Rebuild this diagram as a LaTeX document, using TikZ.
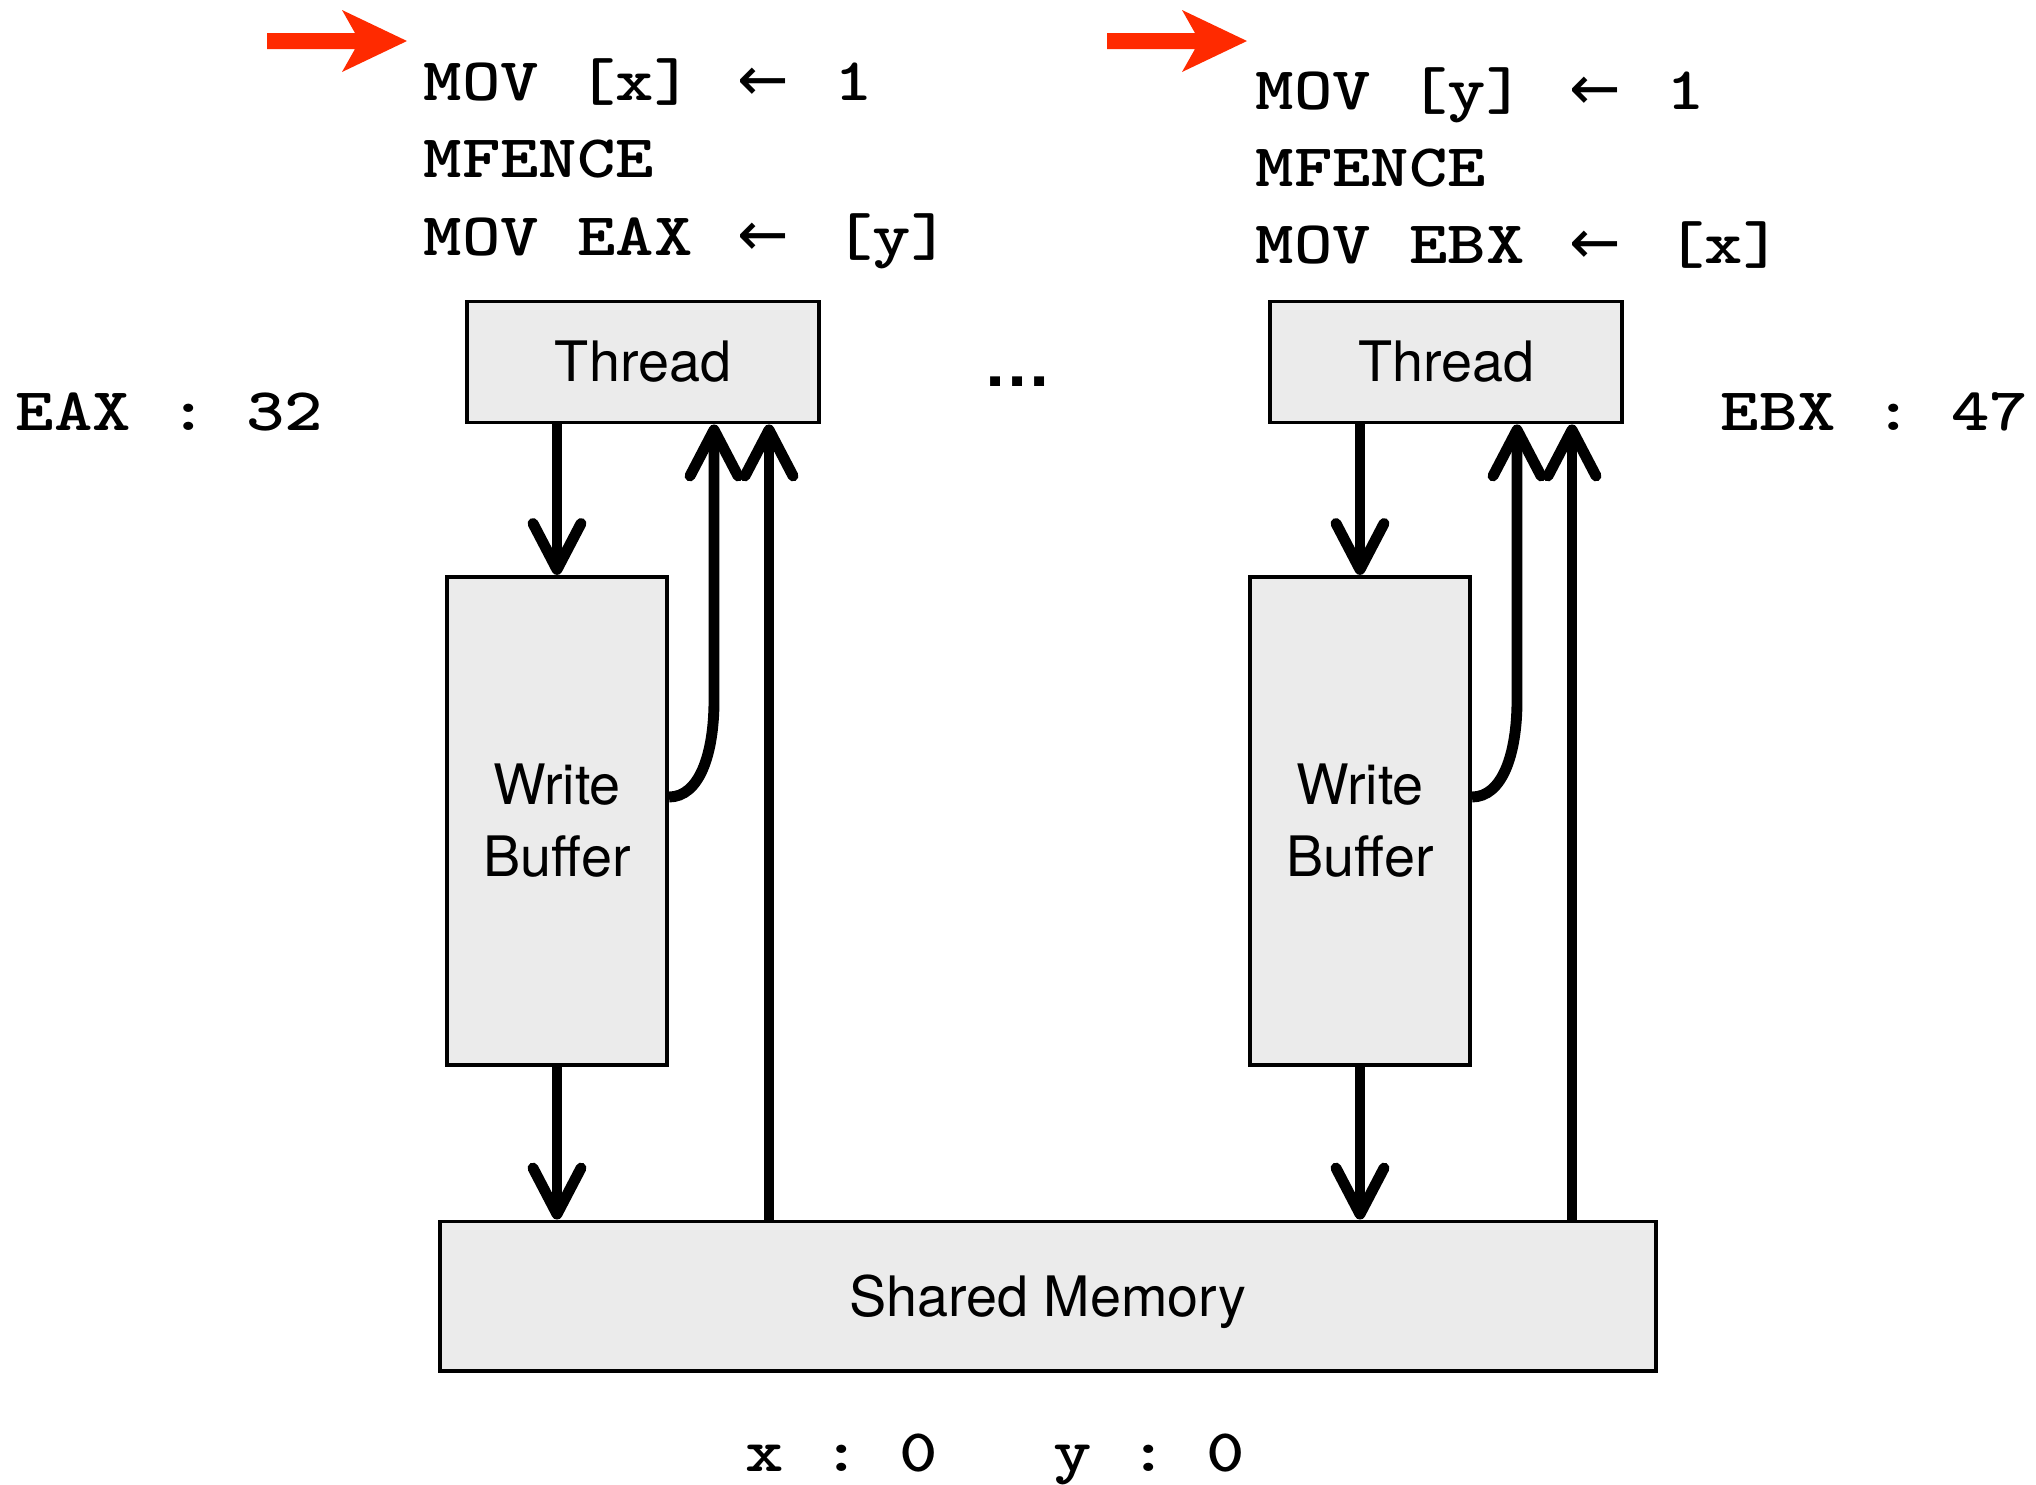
\documentclass[tikz,border=0pt]{standalone}
\usepackage{graphicx}
\usepackage{fontspec}
\setsansfont{TeX Gyre Heros}
\newfontfamily\codefont{lmmonolt10-bold.otf}[FakeStretch=1.21]
\newfontfamily\symfont{DejaVu Sans}
\usetikzlibrary{arrows.meta}
\definecolor{pointred}{RGB}{255,42,0}
\definecolor{boxgray}{RGB}{235,235,235}
\newcommand{\la}{\makebox[0.65cm]{\symfont\fontsize{17.5}{21}\selectfont ←}}
\newcommand{\pcarrow}[2]{\fill[pointred] (#1,#2) ++(0,-8) -- ++(88,0) -- ++(-13,-23) -- ++(65,31) -- ++(-65,31) -- ++(13,-23) -- ++(-88,0) -- cycle;}

\begin{document}
\begin{tikzpicture}[x=0.01cm,y=-0.01cm,
  box/.style={draw,line width=1.1pt,fill=boxgray,inner sep=0pt,align=center,
    font=\sffamily\fontsize{15.85}{20.5}\selectfont},
  flow/.style={line width=3.1pt,-{Straight Barb[length=0.46cm,width=0.48cm,round]}},
  code/.style={inner sep=0pt,anchor=base west,font=\codefont\fontsize{17.2}{21}\selectfont\frenchspacing}]
  \useasboundingbox (0,0) rectangle (2036,1484);
  \pcarrow{267}{41}
  \pcarrow{1107}{41}
  \node[code] (codeA1) at (423,100) {MOV [x] \la{} 1};
  \node[code] (codeA2) at (423,177) {MFENCE};
  \node[code] (codeA3) at (423,255) {MOV EAX \la{} [y]};
  \node[code] (codeB1) at (1255,109) {MOV [y] \la{} 1};
  \node[code] (codeB2) at (1255,186) {MFENCE};
  \node[code] (codeB3) at (1255,263) {MOV EBX \la{} [x]};
  \node[code] (eax) at (15,430) {EAX : 32};
  \node[code] (ebx) at (1720,430) {EBX : 47};
  \node[inner sep=0pt,anchor=base,font=\sffamily\bfseries\fontsize{18.8}{20}\selectfont] (dots) at (1018,386) {…};
  \node[box,text depth=0pt,minimum width=12.16cm,minimum height=1.49cm] (mem) at (1048,1296) {Shared Memory};
  \node[code] (vals) at (745,1471) {x : 0\ \ \ y : 0};
  \foreach \c/\dx in {A/0,B/803} {
    \node[box,minimum width=3.52cm,minimum height=1.21cm] (th\c) at (643+\dx,362) {Thread};
    \node[box,minimum width=2.2cm,minimum height=4.88cm] (wb\c) at (557+\dx,821) {Write\\Buffer};
    \coordinate (bend\c) at ([xshift=0.45cm,yshift=1.21cm]wb\c.east);
    \coordinate (up\c) at ([xshift=-0.52cm]th\c.south east);
    \draw[flow] (wb\c.north |- th\c.south) -- (wb\c.north);
    \draw[flow] (wb\c.south) -- (wb\c.south |- mem.north);
    \draw[flow] ([yshift=0.24cm]wb\c.east) .. controls +(30,0) and +(0,55) .. (bend\c) -- (bend\c |- th\c.south);
    \draw[flow] (up\c |- mem.north) -- (up\c);
  }
\end{tikzpicture}
\end{document}
